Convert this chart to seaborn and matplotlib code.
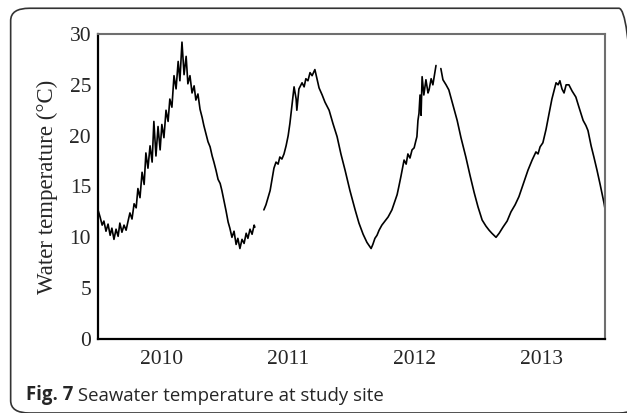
import numpy as np
import pandas as pd
import matplotlib
matplotlib.use("Agg")
import matplotlib.pyplot as plt
from matplotlib.patches import FancyBboxPatch
import seaborn as sns

# days since 2010-01-01 and water temperature (deg C)
# record 1: Jan 2010 -> Mar 2011
days_1 = [0, 6, 12, 17, 23, 29, 35, 40, 46, 52, 58, 63, 69, 75, 81, 86, 92, 98,
          104, 110, 115, 121, 127, 133, 138, 144, 150, 156, 161, 167, 173, 179,
          184, 190, 196, 202, 207, 213, 219, 225, 231, 236, 242, 248, 254, 259,
          265, 271, 277, 282, 288, 294, 300, 305, 311, 317, 323, 329, 334, 340,
          346, 352, 357, 363, 369, 375, 380, 386, 392, 398, 403, 409, 415, 421,
          427, 432, 438, 444, 450, 452]
temp_1 = [12.7, 12.0, 11.2, 11.6, 10.6, 11.3, 10.2, 10.9, 9.8, 10.8, 10.1, 11.4,
          10.5, 11.2, 10.7, 11.5, 12.4, 11.8, 13.3, 12.9, 14.8, 13.9, 16.4, 15.2,
          18.3, 16.8, 19.0, 17.4, 21.4, 18.0, 20.9, 18.6, 21.1, 19.8, 22.5, 21.4,
          23.6, 22.8, 25.9, 24.6, 27.3, 25.4, 29.2, 26.0, 27.8, 25.1, 25.9, 24.2,
          24.9, 23.5, 24.1, 22.6, 21.8, 21.0, 20.2, 19.4, 18.9, 18.0, 17.4, 16.6,
          15.7, 15.3, 14.6, 13.6, 12.6, 11.5, 10.9, 10.0, 10.6, 9.3, 9.9, 8.9,
          9.8, 9.4, 10.4, 9.9, 10.8, 10.3, 11.2, 11.0]

# record 2: Apr 2011 -> Aug 2012
days_2 = [478, 484, 490, 496, 501, 507, 513, 519, 524, 530, 536, 542, 548, 553,
          559, 565, 571, 573, 579, 588, 594, 599, 605, 611, 617, 625, 631, 637,
          646, 654, 666, 677, 689, 700, 712, 726, 741, 752, 764, 775, 787, 792,
          798, 804, 810, 818, 827, 836, 847, 856, 862, 867, 873, 882, 888, 893,
          899, 905, 911, 916, 919, 922, 925, 928, 931, 934, 939, 945, 951, 954,
          960, 965, 974]
temp_2 = [12.7, 13.2, 13.9, 14.6, 15.6, 16.8, 17.4, 17.2, 17.9, 17.7, 18.2, 19.0,
          20.0, 21.2, 23.0, 24.8, 23.6, 22.5, 24.6, 25.2, 24.8, 25.6, 25.4, 26.2,
          25.9, 26.5, 25.6, 24.7, 24.0, 23.3, 22.5, 21.2, 19.9, 18.2, 16.6, 14.6,
          12.7, 11.4, 10.3, 9.5, 8.9, 9.3, 9.9, 10.2, 10.7, 11.2, 11.6, 12.0, 12.7,
          13.6, 14.2, 15.0, 16.0, 17.6, 17.2, 18.2, 17.8, 18.6, 18.8, 19.5, 19.9,
          21.5, 22.2, 24.0, 22.0, 25.8, 24.0, 25.5, 24.2, 24.5, 25.6, 25.0, 26.9]

# record 3: Sep 2012 -> Dec 2013
days_3 = [988, 994, 1003, 1011, 1023, 1035, 1046, 1060, 1072, 1084, 1095, 1107,
          1118, 1127, 1135, 1147, 1156, 1167, 1179, 1190, 1202, 1213, 1225, 1239,
          1251, 1262, 1268, 1274, 1282, 1291, 1300, 1308, 1314, 1320, 1326, 1331,
          1337, 1343, 1349, 1357, 1366, 1377, 1386, 1398, 1406, 1412, 1421, 1429,
          1438, 1447, 1458, 1461]
temp_3 = [26.6, 25.5, 25.0, 24.5, 23.0, 21.5, 19.8, 17.9, 16.1, 14.4, 13.0, 11.7,
          11.1, 10.7, 10.4, 10.0, 10.4, 11.0, 11.6, 12.5, 13.2, 14.0, 15.2, 16.6,
          17.6, 18.4, 18.2, 18.9, 19.3, 20.6, 22.2, 23.6, 24.4, 25.2, 25.0, 25.4,
          24.6, 24.2, 25.0, 25.0, 24.4, 23.8, 22.8, 21.5, 21.0, 20.5, 19.0, 17.9,
          16.6, 15.2, 13.4, 12.8]

years = ["2010", "2011", "2012", "2013"]
year_starts = [0, 365, 730, 1096, 1461]

df = pd.concat([
    pd.DataFrame({"day": days_1, "temp": temp_1, "seg": 1}),
    pd.DataFrame({"day": days_2, "temp": temp_2, "seg": 2}),
    pd.DataFrame({"day": days_3, "temp": temp_3, "seg": 3}),
])

sns.set_style("white")
serif = ["Liberation Serif", "DejaVu Serif"]

fig = plt.figure(figsize=(6.27, 4.13), dpi=100)
ax = fig.add_axes([0.1563, 0.1792, 0.8086, 0.7385])

sns.lineplot(data=df, x="day", y="temp", units="seg", estimator=None,
             color="black", linewidth=1.2, ax=ax, legend=False)

ax.set_xlim(year_starts[0], year_starts[-1])
ax.set_ylim(0, 30)
ax.set_yticks(np.arange(0, 31, 5))
ax.set_xticks(year_starts[1:-1])
ax.set_xticklabels([])
mids = [(a + b) / 2 for a, b in zip(year_starts[:-1], year_starts[1:])]
ax.set_xticks(mids, minor=True)
ax.set_xticklabels(years, minor=True, fontfamily=serif, fontsize=15.5)
ax.tick_params(axis="x", which="minor", length=0, pad=8)
ax.tick_params(axis="x", which="major", direction="in", length=5, width=1.2)
ax.tick_params(axis="y", direction="in", length=4, width=1.2, pad=5,
               labelsize=15.5)
for lab in ax.get_yticklabels():
    lab.set_fontfamily(serif)

ax.set_xlabel("")
ax.set_ylabel("Water temperature (°C)", fontfamily=serif, fontsize=16.5,
              labelpad=8)

for side in ["left", "bottom"]:
    ax.spines[side].set_color("black")
    ax.spines[side].set_linewidth(1.6)
for side in ["top", "right"]:
    ax.spines[side].set_color("#6f6f6f")
    ax.spines[side].set_linewidth(1.5)

# rounded frame around the figure
frame = FancyBboxPatch((0.017, 0.0), 1.0, 0.98, transform=fig.transFigure,
                       boxstyle="round,pad=0,rounding_size=0.03",
                       fill=False, edgecolor="#333333", linewidth=1.2)
fig.patches.append(frame)

t1 = fig.text(0.0415, 0.032, "Fig. 7", fontfamily="Open Sans",
              fontweight="bold", fontsize=13.4, va="baseline")
ax.annotate(" Seawater temperature at study site", xy=(1, 0), xycoords=t1,
            va="bottom", fontfamily="Open Sans", fontsize=13.4,
            annotation_clip=False)

fig.savefig("out.png", dpi=100)
